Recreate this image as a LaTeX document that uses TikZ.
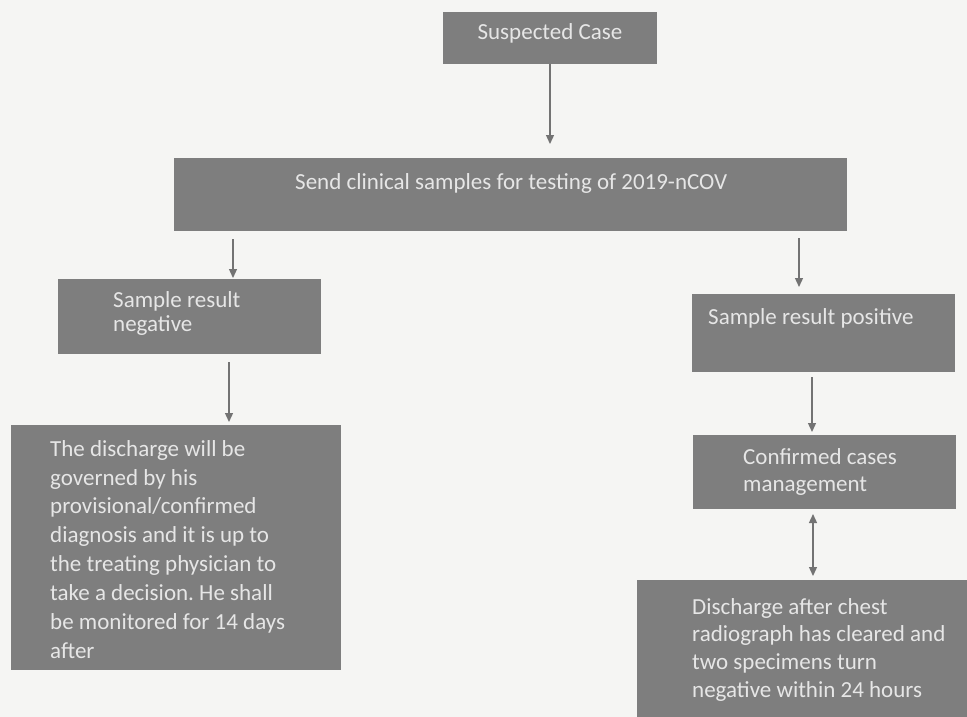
\documentclass[tikz,border=0pt]{standalone}
\usepackage{fontspec}
\setmainfont{Carlito}
\usetikzlibrary{arrows.meta}
\definecolor{bg}{HTML}{F5F5F3}
\definecolor{boxgray}{HTML}{7E7E7E}
\definecolor{txtc}{HTML}{E6E6E6}
\definecolor{arrc}{HTML}{737373}
\frenchspacing
\begin{document}
\begin{tikzpicture}[x=1pt,y=-1pt,
  box/.style={fill=boxgray,draw=none,anchor=north west,inner sep=0pt,outer sep=0pt},
  lbl/.style={text=txtc,inner sep=0pt,align=left},
  arr/.style={draw=arrc,line width=1.3pt,-{Triangle[length=9pt,width=8pt]}},
  darr/.style={draw=arrc,line width=1.3pt,{Triangle[length=9pt,width=8pt]}-{Triangle[length=9pt,width=8pt]}}]
\fill[bg] (0,0) rectangle (967,717);
\useasboundingbox (0,0) rectangle (967,717);

% boxes
\node[box,minimum width=214pt,minimum height=52pt] (susp) at (443,12) {};
\node[box,minimum width=673pt,minimum height=73pt] (send) at (174,158) {};
\node[box,minimum width=263pt,minimum height=75pt] (neg) at (58,279) {};
\node[box,minimum width=263pt,minimum height=78pt] (pos) at (692,294) {};
\node[box,minimum width=330pt,minimum height=245pt] (left) at (11,425) {};
\node[box,minimum width=263pt,minimum height=74pt] (conf) at (693,435) {};
\node[box,minimum width=330pt,minimum height=137pt] (disch) at (637,580) {};

% labels
\node[lbl,anchor=base,font=\fontsize{23}{28}\selectfont] (tsusp) at (550,40) {Suspected Case};
\node[lbl,anchor=base west,font=\fontsize{23}{28}\selectfont] (tsend) at (295,189) {Send clinical samples for testing of 2019-nCOV};
\node[lbl,anchor=north west,font=\fontsize{23}{24.5}\selectfont] (tneg) at (113,291) {Sample result\\negative};
\node[lbl,anchor=base west,font=\fontsize{23}{28}\selectfont] (tpos) at (708,324) {Sample result positive};
\node[lbl,anchor=north west,font=\fontsize{23}{28.85}\selectfont] (tleft) at (50,440) {The discharge will be\\governed by his\\provisional/confirmed\\diagnosis and it is up to\\the treating physician to\\take a decision. He shall\\be monitored for 14 days\\after};
\node[lbl,anchor=north west,font=\fontsize{23}{27}\selectfont] (tconf) at (743,448) {Confirmed cases\\management};
\node[lbl,anchor=north west,font=\fontsize{23}{27.7}\selectfont] (tdisch) at (692,598) {Discharge after chest\\radiograph has cleared and\\two specimens turn\\negative within 24 hours};

% connectors
\draw[arr,shorten >=14pt] (susp.south) -- (susp.south |- send.north);
\draw[arr,shorten <=8pt,shorten >=1pt] ([xshift=43.5pt]neg.north |- send.south) -- ([xshift=43.5pt]neg.north);
\draw[arr,shorten <=7pt,shorten >=7pt] ([xshift=-24.5pt]pos.north |- send.south) -- ([xshift=-24.5pt]pos.north);
\draw[arr,shorten <=8pt,shorten >=3pt] ([xshift=39.5pt]neg.south) -- ([xshift=39.5pt]neg.south |- left.north);
\draw[arr,shorten <=5pt,shorten >=3pt] ([xshift=-12.5pt]conf.north |- pos.south) -- ([xshift=-12.5pt]conf.north);
\draw[darr,shorten <=5pt,shorten >=4pt] ([xshift=-11.5pt]conf.south) -- ([xshift=-11.5pt]conf.south |- disch.north);
\end{tikzpicture}
\end{document}
